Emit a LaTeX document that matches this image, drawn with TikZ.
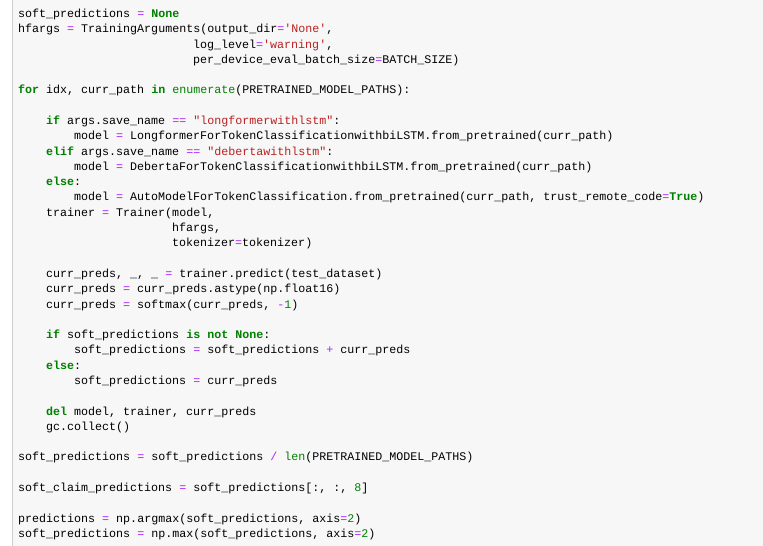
\documentclass[tikz,border=0pt]{standalone}
\usepackage{fontspec}
\setmonofont{Liberation Mono}
\definecolor{cellbg}{HTML}{F7F7F7}
\definecolor{cellline}{HTML}{CFCFCF}
\definecolor{kwgreen}{HTML}{008000}
\definecolor{strred}{HTML}{BA2121}
\definecolor{oppurple}{HTML}{AA22FF}
\newcommand{\kw}[1]{\textcolor{kwgreen}{\textbf{#1}}}
\newcommand{\strg}[1]{\textcolor{strred}{#1}}
\newcommand{\opr}[1]{\textcolor{oppurple}{#1}}
\newcommand{\nbr}[1]{\textcolor{kwgreen}{#1}}
\newcommand{\bltn}[1]{\textcolor{kwgreen}{#1}}
\def\lh{15.29}
\begin{document}
\begin{tikzpicture}[x=1pt, y=-1pt,
	code/.style={anchor=base west, inner sep=0pt, font=\ttfamily\fontsize{11.67}{14}\selectfont\frenchspacing}]
	% Cellule
	\useasboundingbox (0,0) rectangle (763,546);
	\fill[white] (0,0) rectangle (763,546);
	\fill[cellbg] (12,0) rectangle (763,546);
	\draw[cellline, line width=1pt] (12.5,0) -- (12.5,546);
	% Code
	\node[code] (l0) at (18,{17.5+0*\lh}) {soft\_predictions \opr{=} \kw{None}};
	\node[code] (l1) at (18,{17.5+1*\lh}) {hfargs \opr{=} TrainingArguments(output\_dir\opr{=}\strg{'None'},};
	\node[code] (l2) at (193,{17.5+2*\lh}) {log\_level\opr{=}\strg{'warning'},};
	\node[code] (l3) at (193,{17.5+3*\lh}) {per\_device\_eval\_batch\_size\opr{=}BATCH\_SIZE)};
	\node[code] (l5) at (18,{17.5+5*\lh}) {\kw{for} idx, curr\_path \kw{in} \bltn{enumerate}(PRETRAINED\_MODEL\_PATHS):};
	\node[code] (l7) at (46,{17.5+7*\lh}) {\kw{if} args.save\_name \opr{==} \strg{"longformerwithlstm"}:};
	\node[code] (l8) at (74,{17.5+8*\lh}) {model \opr{=} LongformerForTokenClassificationwithbiLSTM.from\_pretrained(curr\_path)};
	\node[code] (l9) at (46,{17.5+9*\lh}) {\kw{elif} args.save\_name \opr{==} \strg{"debertawithlstm"}:};
	\node[code] (l10) at (74,{17.5+10*\lh}) {model \opr{=} DebertaForTokenClassificationwithbiLSTM.from\_pretrained(curr\_path)};
	\node[code] (l11) at (46,{17.5+11*\lh}) {\kw{else}:};
	\node[code] (l12) at (74,{17.5+12*\lh}) {model \opr{=} AutoModelForTokenClassification.from\_pretrained(curr\_path, trust\_remote\_code\opr{=}\kw{True})};
	\node[code] (l13) at (46,{17.5+13*\lh}) {trainer \opr{=} Trainer(model,};
	\node[code] (l14) at (172,{17.5+14*\lh}) {hfargs,};
	\node[code] (l15) at (172,{17.5+15*\lh}) {tokenizer\opr{=}tokenizer)};
	\node[code] (l17) at (46,{17.5+17*\lh}) {curr\_preds, \_, \_ \opr{=} trainer.predict(test\_dataset)};
	\node[code] (l18) at (46,{17.5+18*\lh}) {curr\_preds \opr{=} curr\_preds.astype(np.float16)};
	\node[code] (l19) at (46,{17.5+19*\lh}) {curr\_preds \opr{=} softmax(curr\_preds, \opr{-}\nbr{1})};
	\node[code] (l21) at (46,{17.5+21*\lh}) {\kw{if} soft\_predictions \kw{is} \kw{not} \kw{None}:};
	\node[code] (l22) at (74,{17.5+22*\lh}) {soft\_predictions \opr{=} soft\_predictions \opr{+} curr\_preds};
	\node[code] (l23) at (46,{17.5+23*\lh}) {\kw{else}:};
	\node[code] (l24) at (74,{17.5+24*\lh}) {soft\_predictions \opr{=} curr\_preds};
	\node[code] (l26) at (46,{17.5+26*\lh}) {\kw{del} model, trainer, curr\_preds};
	\node[code] (l27) at (46,{17.5+27*\lh}) {gc.collect()};
	\node[code] (l29) at (18,{17.5+29*\lh}) {soft\_predictions \opr{=} soft\_predictions \opr{/} \bltn{len}(PRETRAINED\_MODEL\_PATHS)};
	\node[code] (l31) at (18,{17.5+31*\lh}) {soft\_claim\_predictions \opr{=} soft\_predictions[:, :, \nbr{8}]};
	\node[code] (l33) at (18,{17.5+33*\lh}) {predictions \opr{=} np.argmax(soft\_predictions, axis\opr{=}\nbr{2})};
	\node[code] (l34) at (18,{17.5+34*\lh}) {soft\_predictions \opr{=} np.max(soft\_predictions, axis\opr{=}\nbr{2})};
\end{tikzpicture}
\end{document}
